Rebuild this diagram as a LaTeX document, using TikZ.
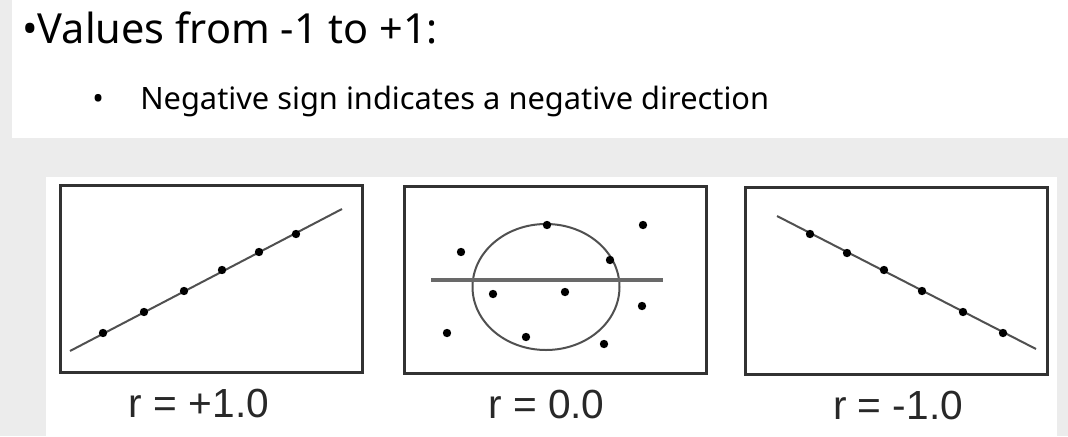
\documentclass[tikz,border=0pt]{standalone}
\usepackage{fontspec}
\setmainfont{Noto Sans}
\newfontfamily\plotfont{Liberation Sans}
\usetikzlibrary{positioning,shapes.geometric}

\definecolor{wallgray}{RGB}{236,236,236}
\definecolor{framegray}{RGB}{50,50,50}
\definecolor{fitgray}{RGB}{80,80,80}
\definecolor{meangray}{RGB}{105,105,105}
\definecolor{rgray}{RGB}{40,40,40}

\begin{document}
\begin{tikzpicture}[x=0.75pt,y=-0.75pt,
  plotbox/.style={draw=framegray,line width=2.6pt,fill=white,inner sep=0pt,
                  minimum width=226.5pt,minimum height=140.25pt,anchor=north west},
  pt/.style={circle,fill=black,inner sep=0pt,minimum size=6.3pt},
  fitline/.style={draw=fitgray,line width=1.5pt},
  rvalue/.style={font=\plotfont\fontsize{30.5pt}{34pt}\selectfont,text=rgray,inner sep=0pt},
  panel/.style={fill=white,draw=none}]
%
  \useasboundingbox (0,0) rectangle (1068,436);
  \fill[wallgray] (0,0) rectangle (1068,436);
  \fill[panel] (12,0) rectangle (1068,138);
  \fill[panel] (46,177) rectangle (1057,436);
%
  \node[anchor=base west,inner sep=0pt,font=\fontsize{31.1pt}{36pt}\selectfont]
    (title) at (22,43) {•Values from -1 to +1:};
  \node[anchor=base west,inner sep=0pt,font=\fontsize{23.1pt}{28pt}\selectfont]
    (subbullet) at (92,109) {•};
  \node[anchor=base west,inner sep=0pt,font=\fontsize{23.1pt}{28pt}\selectfont]
    (subtext) at (140,109) {Negative sign indicates a negative direction};
%
  \node[plotbox] (boxpos)  at (59,184)  {};
  \node[plotbox] (boxzero) at (403,185) {};
  \node[plotbox] (boxneg)  at (744,186) {};
%
  \node[rvalue,below=10.5pt of boxpos,xshift=-9.5pt]  (rpos)  {r = +1.0};
  \node[rvalue,below=10.5pt of boxzero,xshift=-7pt]   (rzero) {r = 0.0};
  \node[rvalue,below=10.5pt of boxneg,xshift=1pt]     (rneg)  {r = -1.0};
%
  % r = +1
  \coordinate (posa) at (70,351);
  \coordinate (posb) at (342,209);
  \draw[fitline] (posa) -- (posb);
  \foreach \px/\py [count=\i] in {103/333,144/312,184/291,222/270,259/252,296/234}
    \node[pt] (pos\i) at (\px,\py) {};
%
  % r = 0
  \node[draw=fitgray,line width=1.5pt,ellipse,minimum width=110.25pt,
        minimum height=94.5pt,inner sep=0pt] (cloud) at (546,287) {};
  \coordinate (meana) at (431,280);
  \coordinate (meanb) at (663,280);
  \draw[draw=meangray,line width=2.6pt] (meana) -- (meanb);
  \foreach \px/\py [count=\i] in {547/225,643/225,461/252,610/260,493/294,
                                  565/292,642/306,447/333,526/337,604/344}
    \node[pt] (zero\i) at (\px,\py) {};
%
  % r = -1
  \coordinate (nega) at (777,216);
  \coordinate (negb) at (1036,349);
  \draw[fitline] (nega) -- (negb);
  \foreach \px/\py [count=\i] in {810/234,847/253,884/270,922/291,963/312,1003/333}
    \node[pt] (neg\i) at (\px,\py) {};
\end{tikzpicture}
\end{document}
